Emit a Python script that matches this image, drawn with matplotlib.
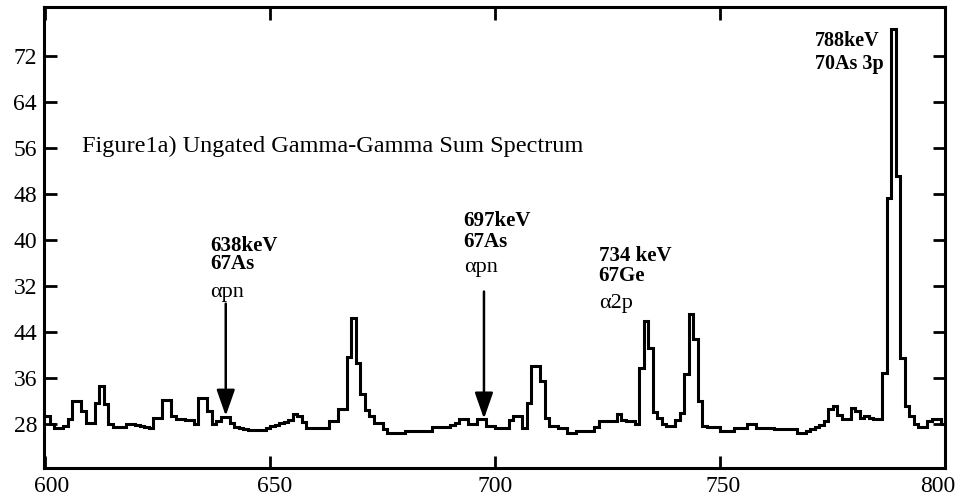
import numpy as np
import matplotlib.pyplot as plt
from matplotlib.transforms import ScaledTranslation

plt.rcParams['font.family'] = ['Liberation Serif', 'DejaVu Serif']

# gamma energy bins (keV), 1 keV wide
bin_edges = np.arange(600, 801)

# counts per bin (in the plot's own y units)
counts = [
    29.4, 28.0, 27.3, 27.3, 27.6, 28.8, 32.0, 32.0, 30.3, 28.2,   # 600
    28.2, 31.6, 34.6, 31.5, 28.0, 27.5, 27.5, 27.4, 28.0, 28.0,   # 610
    27.8, 27.6, 27.4, 27.3, 29.0, 29.0, 32.2, 32.2, 29.4, 28.9,   # 620
    28.9, 28.7, 28.7, 28.0, 32.5, 32.5, 30.3, 28.0, 28.5, 29.2,   # 630
    29.2, 28.1, 27.5, 27.3, 27.1, 27.0, 26.9, 26.9, 27.0, 27.3,   # 640
    27.6, 27.8, 28.1, 28.4, 28.6, 29.7, 29.4, 28.3, 27.3, 27.3,   # 650
    27.3, 27.3, 27.3, 28.5, 28.5, 30.6, 30.6, 39.7, 46.4, 38.6,   # 660
    33.2, 30.5, 29.4, 28.2, 28.2, 27.1, 26.4, 26.4, 26.4, 26.4,   # 670
    26.8, 26.8, 26.8, 26.8, 26.8, 26.8, 27.4, 27.4, 27.4, 27.4,   # 680
    27.8, 28.2, 28.9, 28.9, 28.0, 28.0, 28.9, 28.9, 27.6, 27.6,   # 690
    27.3, 27.3, 27.3, 28.7, 29.4, 29.4, 27.3, 31.6, 38.1, 38.1,   # 700
    35.5, 29.0, 27.6, 27.6, 27.3, 27.3, 26.4, 26.4, 26.8, 26.8,   # 710
    26.8, 26.8, 27.5, 28.5, 28.5, 28.5, 28.5, 29.7, 28.7, 28.5,   # 720
    28.5, 28.0, 37.7, 45.9, 41.2, 30.0, 29.0, 28.0, 27.6, 27.6,   # 730
    28.7, 29.9, 36.6, 47.1, 42.8, 32.0, 27.6, 27.5, 27.5, 27.5,   # 740
    26.8, 26.8, 26.8, 27.3, 27.3, 27.3, 28.0, 28.0, 27.3, 27.3,   # 750
    27.3, 27.3, 27.1, 27.1, 27.1, 27.1, 27.1, 26.4, 26.4, 26.8,   # 760
    27.1, 27.4, 27.8, 28.5, 30.6, 31.1, 29.6, 28.8, 28.8, 30.8,   # 770
    30.3, 29.0, 29.4, 29.0, 28.8, 28.8, 36.9, 67.3, 96.7, 71.1,   # 780
    39.5, 31.1, 29.4, 28.0, 27.4, 27.4, 28.5, 28.8, 28.8, 28.0,   # 790
]

x_ticks = [600, 650, 700, 750, 800]
# the scan's y labels are printed in this (odd) order, bottom to top
y_tick_labels = ['28', '36', '44', '32', '40', '48', '56', '64', '72']

title = 'Figure1a) Ungated Gamma-Gamma Sum Spectrum'
peak_labels = [
    ('638keV', '67As', 'αpn'),
    ('697keV', '67As', 'αpn'),
    ('734 keV', '67Ge', 'α2p'),
    ('788keV', '70As 3p'),
]
arrow_x = [640.1, 697.5]
arrow_tip = [29.4, 28.9]
arrow_top = [48.9, 51.0]

fig = plt.figure(figsize=(9.61, 5.01), dpi=100)
ax = fig.add_axes([0.0458, 0.066, 0.9376, 0.9206])

ax.stairs(counts, bin_edges, color='black', linewidth=2.2, baseline=None)

ax.set_xlim(599.7, 800)
ax.set_ylim(20.35, 100.5)
ax.set_xticks(x_ticks)
y_pos = 28 + 8 * np.arange(len(y_tick_labels))
ax.set_yticks(y_pos)
ax.set_yticklabels(y_tick_labels)

for s in ax.spines.values():
    s.set_linewidth(2.2)
ax.tick_params(direction='in', length=9, width=2, top=True, right=True)
ax.tick_params(axis='x', pad=6, labelsize=17)
ax.tick_params(axis='y', pad=5, labelsize=17)

# x labels in the scan are nudged off their ticks (inches)
x_label_nudge = [0.065, 0.04, 0.0, 0.025, -0.07]
for lab, dx in zip(ax.get_xticklabels(), x_label_nudge):
    lab.set_transform(lab.get_transform() + ScaledTranslation(dx, 0, fig.dpi_scale_trans))

ax.text(608.1, 76.3, title, fontsize=17.5, va='center', ha='left')

# peak annotations
ax.text(636.6, 59.0, peak_labels[0][0], fontsize=15, fontweight='bold', va='center')
ax.text(636.6, 55.8, peak_labels[0][1], fontsize=15, fontweight='bold', va='center')
ax.text(636.6, 50.8, peak_labels[0][2], fontsize=16, va='center')

ax.text(693.0, 63.3, peak_labels[1][0], fontsize=15, fontweight='bold', va='center')
ax.text(693.0, 59.6, peak_labels[1][1], fontsize=15, fontweight='bold', va='center')
ax.text(693.0, 55.1, peak_labels[1][2], fontsize=16, va='center')

ax.text(723.0, 57.2, peak_labels[2][0], fontsize=15, fontweight='bold', va='center')
ax.text(723.0, 53.7, peak_labels[2][1], fontsize=15, fontweight='bold', va='center')
ax.text(723.0, 48.9, peak_labels[2][2], fontsize=16, va='center')

ax.text(771.0, 94.6, peak_labels[3][0], fontsize=14.5, fontweight='bold', va='center')
ax.text(771.0, 90.6, peak_labels[3][1], fontsize=14.5, fontweight='bold', va='center')

for xa, yt, y0 in zip(arrow_x, arrow_tip, arrow_top):
    ax.annotate('', xy=(xa, yt), xytext=(xa, y0),
                arrowprops=dict(arrowstyle='-|>,head_length=0.8,head_width=0.28',
                                mutation_scale=20, lw=1.8, color='black',
                                shrinkA=0, shrinkB=0))

fig.savefig('out.png', dpi=100)
